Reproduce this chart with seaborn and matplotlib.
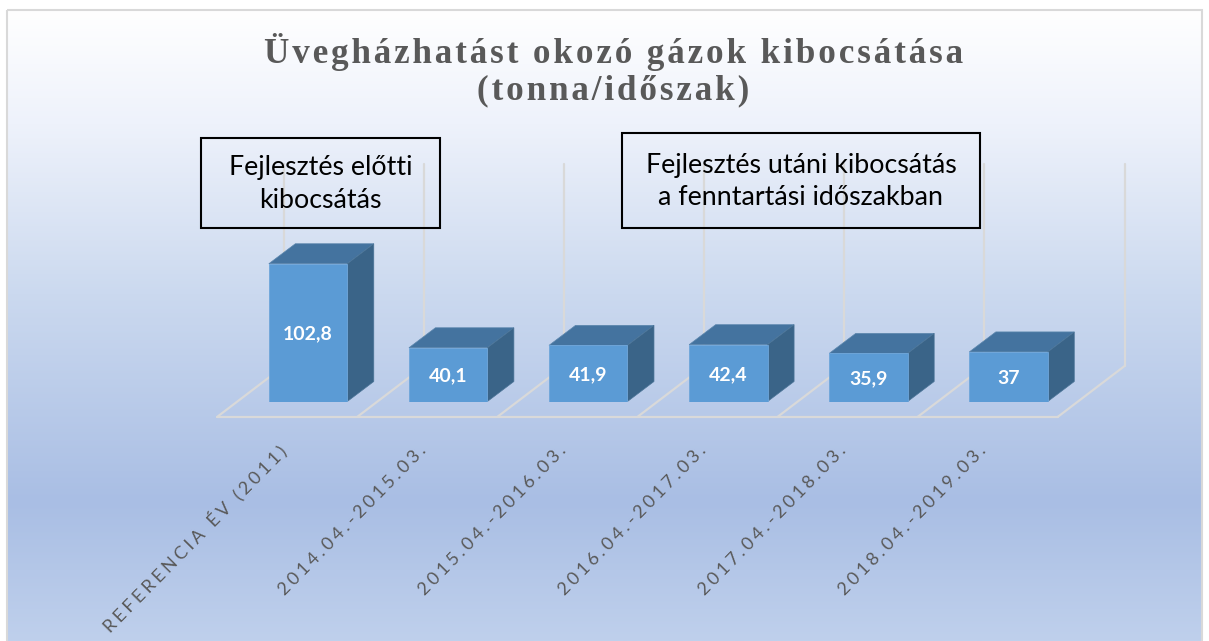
import matplotlib
matplotlib.use("Agg")
import matplotlib.pyplot as plt
from matplotlib.colors import LinearSegmentedColormap
from matplotlib.patches import Polygon, Rectangle
from matplotlib.transforms import ScaledTranslation
import numpy as np
import pandas as pd
import seaborn as sns

categories = ["REFERENCIA ÉV (2011)", "2014.04.-2015.03.", "2015.04.-2016.03.",
              "2016.04.-2017.03.", "2017.04.-2018.03.", "2018.04.-2019.03."]
values = [102.8, 40.1, 41.9, 42.4, 35.9, 37]
value_labels = ["102,8", "40,1", "41,9", "42,4", "35,9", "37"]
title_lines = ["Üvegházhatást okozó gázok kibocsátása", "(tonna/időszak)"]
box_left = "Fejlesztés előtti\nkibocsátás"
box_right = "Fejlesztés utáni kibocsátás\na fenntartási időszakban"

W, H = 1209, 641
sns.set_theme(style="white")
plt.rcParams["font.family"] = ["Lato", "DejaVu Sans"]
fig = plt.figure(figsize=(W / 100, H / 100), dpi=100, facecolor="white")

def fx(p): return p / W
def fy(p): return 1 - p / H

# background panel
bg = fig.add_axes([0, 0, 1, 1], zorder=0)
bg.set_xlim(0, W); bg.set_ylim(H, 0); bg.axis("off")
stops = [(0, "#ffffff"), (0.18, "#eef2fb"), (0.45, "#cbd9ef"), (0.78, "#a9bee4"), (1, "#bfd0ec")]
cmap = LinearSegmentedColormap.from_list("bg", stops)
bg.imshow(np.linspace(0, 1, 256)[:, None], extent=(7, 1202, H, 10), aspect="auto", cmap=cmap, zorder=0)
bg.set_xlim(0, W); bg.set_ylim(H, 0)
bg.add_patch(Rectangle((7, 10), 1195, H, fill=False, ec="#d9d9d9", lw=1.5, zorder=1))

# plot axes: one category = 140.1 px, one unit = 1.34 px
left, right, base, top = 238, 1078.6, 401.5, 164
ax = fig.add_axes([fx(left), fy(base), (right - left) / W, (base - top) / H], zorder=1)
ax.patch.set_alpha(0)
df = pd.DataFrame({"cat": categories, "val": values})
sns.barplot(data=df, x="cat", y="val", color="#5b9bd5", saturation=1, width=0.56, ax=ax, zorder=5,
            edgecolor="#6fa6da", linewidth=0.6)
ax.set_xlim(-0.5, 5.5)
ax.set_ylim(0, (base - top) / 1.34)
sns.despine(ax=ax, left=True, bottom=True, top=True, right=True)
ax.set_xlabel(""); ax.set_ylabel(""); ax.set_yticks([])

px_x, px_y = (right - left) / 6, 1.34
ddx, ddy = 26.5 / px_x, 20 / px_y

# floor and back walls
wall = "#d9d9d9"
fdx, fdy = 67 / px_x, 51 / px_y
fy0 = -15.5 / px_y
fx0 = -0.5 - 21 / px_x
ytop = (base - top) / px_y
for i in range(7):
    ax.plot([fx0 + i, fx0 + i + fdx], [fy0, fy0 + fdy], color=wall, lw=1.6, zorder=2, clip_on=False)
    ax.plot([fx0 + i + fdx] * 2, [fy0 + fdy, ytop], color=wall, lw=1.6, zorder=2, clip_on=False)
ax.plot([fx0, fx0 + 6], [fy0, fy0], color=wall, lw=1.6, zorder=2, clip_on=False)

# 3-D faces built from the bars seaborn drew
for p, lab in zip(ax.patches, value_labels):
    x0, y0, w, h = p.get_x(), p.get_y(), p.get_width(), p.get_height()
    x1, y1 = x0 + w, y0 + h
    ax.add_patch(Polygon([(x0, y1), (x1, y1), (x1 + ddx, y1 + ddy), (x0 + ddx, y1 + ddy)],
                         fc="#44739f", ec="#5b86ad", lw=0.5, zorder=4, clip_on=False))
    ax.add_patch(Polygon([(x1, y0), (x1, y1), (x1 + ddx, y1 + ddy), (x1 + ddx, y0 + ddy)],
                         fc="#3a6488", ec="#4b7497", lw=0.5, zorder=4, clip_on=False))
    ax.text(x0 + w / 2, y0 + h / 2 - 1, lab, color="white", ha="center", va="center",
            fontsize=14, fontweight="bold", zorder=6)

# category labels (letter-spaced with thin spaces)
ax.set_xticks(range(len(categories)))
ax.set_xticklabels(["\u200a\u2009".join(c) for c in categories], rotation=45.5, ha="right", va="center",
                   rotation_mode="anchor", fontsize=13, color="#595959",
                   family=["Lato", "DejaVu Sans"])
ax.tick_params(axis="x", length=0, pad=0)
shift = ScaledTranslation(-25 / 100, -46 / 100, fig.dpi_scale_trans)
for t in ax.get_xticklabels():
    t.set_transform(t.get_transform() + shift)

# title
for line, yp in zip(title_lines, [52, 91]):
    fig.text(fx(613.5), fy(yp), "\u200a".join(line), ha="center", va="center", color="#595959",
             fontsize=25.3, fontweight="bold", family=["Liberation Serif", "DejaVu Serif"], zorder=5)

# annotation boxes
for (x0, y0, x1, y1), txt in [((201, 137.5, 440, 228), box_left), ((622, 133, 980, 228), box_right)]:
    fig.add_artist(Rectangle((fx(x0), fy(y1)), (x1 - x0) / W, (y1 - y0) / H, transform=fig.transFigure,
                             fill=False, ec="black", lw=1.5, zorder=8))
    fig.text(fx((x0 + x1) / 2), fy((y0 + y1) / 2 + 1), txt, ha="center", va="center", color="black",
             fontsize=19.3, linespacing=1.38, zorder=9)

fig.savefig("out.png", dpi=100)
